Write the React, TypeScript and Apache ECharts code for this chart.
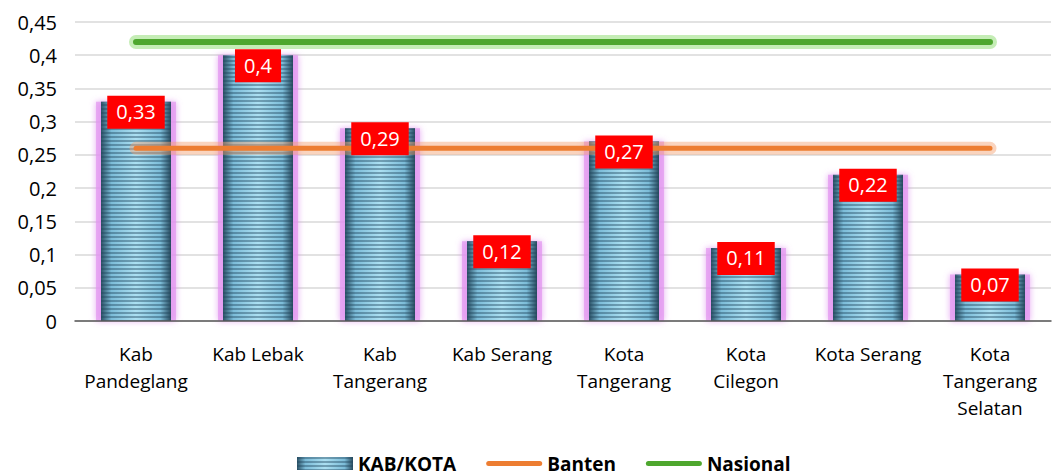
import React, { useEffect, useRef } from "react";
import * as echarts from "echarts";

const categories = [
  "Kab\nPandeglang",
  "Kab Lebak",
  "Kab\nTangerang",
  "Kab Serang",
  "Kota\nTangerang",
  "Kota\nCilegon",
  "Kota Serang",
  "Kota\nTangerang\nSelatan",
];
const kabKota = [0.33, 0.4, 0.29, 0.12, 0.27, 0.11, 0.22, 0.07];
const banten = [0.26, 0.26, 0.26, 0.26, 0.26, 0.26, 0.26, 0.26];
const nasional = [0.42, 0.42, 0.42, 0.42, 0.42, 0.42, 0.42, 0.42];

const FONT = "'Open Sans', 'Noto Sans', sans-serif";
const LINE_ICON =
  "path://M2.5,0 L53.5,0 A2.5,2.5 0 0 1 53.5,5 L2.5,5 A2.5,2.5 0 0 1 2.5,0 Z";

export default function App() {
  const ref = useRef<HTMLDivElement>(null);
  useEffect(() => {
    if (!ref.current) return;
    const chart = echarts.init(ref.current, undefined, { renderer: "svg" });
    const fmt = (v: number) => String(v).replace(".", ",");
    const barColor = {
      type: "linear",
      x: 0,
      y: 0,
      x2: 1,
      y2: 0,
      colorStops: [
        { offset: 0, color: "#2c5266" },
        { offset: 0.15, color: "#7cbcd8" },
        { offset: 0.5, color: "#ace0f2" },
        { offset: 0.85, color: "#7cbcd8" },
        { offset: 1, color: "#284a5e" },
      ],
    };
    const decal = {
      symbol: "rect",
      symbolSize: 1,
      dashArrayX: [1, 0],
      dashArrayY: [1.4, 1.8],
      color: "rgba(30,68,92,0.42)",
      rotation: 0,
    };
    chart.setOption({
      animation: false,
      grid: { left: 75, width: 976, top: 22, height: 299 },
      legend: {
        bottom: -2,
        left: 292,
        itemGap: 30,
        itemWidth: 56,
        itemHeight: 13,
        textStyle: { fontFamily: FONT, fontSize: 19, fontWeight: "bold", color: "#000" },
        data: [
          { name: "KAB/KOTA", icon: "rect" },
          { name: "Banten", icon: LINE_ICON, itemStyle: { color: "#ed7d31" } },
          { name: "Nasional", icon: LINE_ICON, itemStyle: { color: "#4ea72e" } },
        ],
      },
      xAxis: [
        {
          type: "category",
          data: categories,
          axisLine: { lineStyle: { color: "#595959", width: 1.5 } },
          axisTick: { show: false },
          axisLabel: {
            fontFamily: FONT,
            fontSize: 19,
            color: "#000",
            lineHeight: 27,
            margin: 19,
            interval: 0,
          },
          z: 5,
        },
        {
          type: "category",
          data: categories,
          show: false,
        },
      ],
      yAxis: {
        type: "value",
        min: 0,
        max: 0.45,
        interval: 0.05,
        axisLine: { show: false },
        axisTick: { show: false },
        splitLine: { lineStyle: { color: "#d9d9d9", width: 1.5 } },
        axisLabel: {
          fontFamily: FONT,
          fontSize: 20,
          color: "#000",
          margin: 18,
          formatter: (v: number) => fmt(Math.round(v * 100) / 100),
        },
      },
      series: [
        {
          name: "KAB/KOTA glow",
          type: "bar",
          xAxisIndex: 1,
          data: kabKota,
          barWidth: 80,
          silent: true,
          itemStyle: {
            color: "rgba(226,150,240,0.7)",
            shadowColor: "rgba(215,120,235,0.9)",
            shadowBlur: 6,
          },
          z: 1,
        },
        {
          name: "KAB/KOTA",
          type: "bar",
          data: kabKota,
          barWidth: 70,
          barGap: "-100%",
          itemStyle: {
            color: barColor,
            decal,
          },
          z: 2,
        },
        {
          name: "BantenGlow",
          type: "line",
          data: banten,
          symbol: "none",
          silent: true,
          lineStyle: { color: "rgba(244,160,110,0.45)", width: 13, cap: "round" },
          z: 3,
        },
        {
          name: "Banten",
          type: "line",
          data: banten,
          symbol: "none",
          lineStyle: { color: "#ed7d31", width: 5, cap: "round" },
          itemStyle: { color: "#ed7d31" },
          z: 4,
        },
        {
          name: "NasionalGlow",
          type: "line",
          data: nasional,
          symbol: "none",
          silent: true,
          lineStyle: { color: "rgba(140,220,110,0.5)", width: 14, cap: "round" },
          z: 3,
        },
        {
          name: "Nasional",
          type: "line",
          data: nasional,
          symbol: "none",
          lineStyle: { color: "#4ea72e", width: 6, cap: "round" },
          itemStyle: { color: "#4ea72e" },
          z: 4,
        },
        {
          name: "KAB/KOTA labels",
          type: "bar",
          data: kabKota,
          barWidth: 70,
          barGap: "-100%",
          silent: true,
          itemStyle: { color: "rgba(0,0,0,0)" },
          label: {
            show: true,
            position: "insideTop",
            offset: [0, -11],
            formatter: (p: any) => fmt(p.value),
            backgroundColor: "#ff0000",
            color: "#fff",
            fontFamily: FONT,
            fontSize: 20,
            padding: [6, 9, 7, 9],
          },
          z: 10,
        },
      ],
    });
    return () => chart.dispose();
  }, []);
  return (
    <div
      ref={ref}
      style={{ position: "absolute", left: 0, top: 0, width: 1052, height: 476 }}
    />
  );
}
